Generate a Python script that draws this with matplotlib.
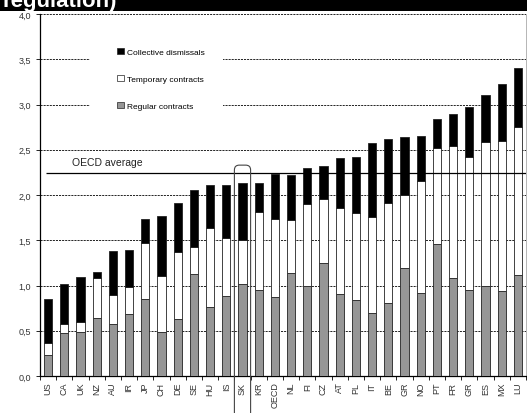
import matplotlib
matplotlib.use('Agg')
import matplotlib.pyplot as plt
from matplotlib.patches import Rectangle, FancyBboxPatch, Patch
from matplotlib.ticker import FuncFormatter, MultipleLocator
import numpy as np

plt.rcParams['font.family'] = ['Liberation Sans', 'DejaVu Sans']

# countries, sorted by overall strictness
countries = ['US', 'CA', 'UK', 'NZ', 'AU', 'IR', 'JP', 'CH', 'DE', 'SE',
             'HU', 'IS', 'SK', 'KR', 'OECD', 'NL', 'FI', 'CZ', 'AT', 'PL',
             'IT', 'BE', 'GR', 'NO', 'PT', 'FR', 'GR', 'ES', 'MX', 'LU']
regular = [0.23, 0.48, 0.49, 0.64, 0.57, 0.69, 0.85, 0.49, 0.63, 1.13,
           0.76, 0.88, 1.02, 0.95, 0.87, 1.14, 0.99, 1.25, 0.91, 0.84,
           0.70, 0.81, 1.19, 0.92, 1.46, 1.08, 0.95, 0.99, 0.94, 1.12]
temporary = [0.14, 0.10, 0.11, 0.44, 0.32, 0.29, 0.62, 0.62, 0.74, 0.30,
             0.87, 0.65, 0.48, 0.86, 0.87, 0.58, 0.91, 0.71, 0.95, 0.96,
             1.06, 1.10, 0.81, 1.24, 1.06, 1.46, 1.47, 1.60, 1.66, 1.63]
collective = [0.48, 0.44, 0.49, 0.07, 0.49, 0.41, 0.26, 0.66, 0.54, 0.63,
              0.48, 0.58, 0.63, 0.32, 0.49, 0.50, 0.40, 0.36, 0.55, 0.62,
              0.82, 0.71, 0.64, 0.49, 0.32, 0.36, 0.55, 0.52, 0.63, 0.65]
oecd_avg = 2.24
highlight = 'SK'

reg = np.array(regular)
tmp = np.array(temporary)
col = np.array(collective)
x = np.arange(len(countries))

fig = plt.figure(figsize=(5.27, 4.14), dpi=100)
ax = fig.add_axes([40 / 527, 37 / 414, 486 / 527, 362 / 414])

# black title band at the very top (cut off, as in the source)
fig.patches.append(Rectangle((0, 1 - 12 / 414), 1, 12 / 414, transform=fig.transFigure,
                             facecolor='black', edgecolor='none', zorder=0))
fig.text(0.004, 1 - 7 / 414, 'regulation)', color='white', fontsize=16,
         fontweight='bold', va='baseline', ha='left', family='Liberation Sans')

w = 0.5
ax.bar(x, reg, w, color='#969696', edgecolor='#222222', linewidth=0.6, zorder=3,
       label='Regular contracts')
ax.bar(x, tmp, w, bottom=reg, color='white', edgecolor='#222222', linewidth=0.6,
       zorder=3, label='Temporary contracts')
ax.bar(x, col, w, bottom=reg + tmp, color='black', edgecolor='#222222', linewidth=0.6,
       zorder=3, label='Collective dismissals')

ax.set_xlim(-0.5, len(countries) - 0.5)
ax.set_ylim(0, 4)
ax.yaxis.set_major_locator(MultipleLocator(0.5))
ax.yaxis.set_major_formatter(FuncFormatter(lambda v, p: f'{v:.1f}'.replace('.', ',')))
ax.grid(axis='y', linestyle=(0, (2.5, 1.2)), color='black', linewidth=0.6, zorder=1)
ax.set_axisbelow(True)

ax.set_xticks(x)
ax.set_xticklabels(countries, rotation=90, fontsize=6.5, color='#333333')
ax.set_xticks(np.arange(-0.5, len(countries), 1), minor=True)
ax.tick_params(axis='x', which='major', length=0, pad=4)
ax.tick_params(axis='x', which='minor', length=3, width=0.6, direction='out')
ax.tick_params(axis='y', labelsize=6.5, labelcolor='#333333', length=3, width=0.6)

ax.spines['top'].set_visible(False)
ax.spines['right'].set_color('#aaaaaa')
ax.spines['right'].set_linewidth(0.6)
ax.spines['left'].set_linewidth(0.9)
ax.spines['bottom'].set_linewidth(0.9)

# OECD average line
ax.hlines(oecd_avg, -0.1, len(countries) - 0.5, color='black', linewidth=0.9, zorder=4)
ax.text(1.5, oecd_avg + 0.13, 'OECD average', fontsize=7.5, va='center', ha='left',
        color='#222222')

# rounded box around the highlighted country
i = countries.index(highlight)
box = FancyBboxPatch((i - 0.5, -0.6), 1.0, 2.93,
                     boxstyle='round,pad=0,rounding_size=0.3',
                     mutation_aspect=0.18, facecolor='none', edgecolor='#444444',
                     linewidth=0.8, clip_on=False, zorder=5)
ax.add_patch(box)

# legend on white panel
ax.add_patch(Rectangle((0.103, 0.696), 0.274, 0.235, transform=ax.transAxes,
                       facecolor='white', edgecolor='none', zorder=2))
handles = [Patch(facecolor='black', edgecolor='#222222', linewidth=0.5),
           Patch(facecolor='white', edgecolor='#222222', linewidth=0.5),
           Patch(facecolor='#969696', edgecolor='#222222', linewidth=0.5)]
labels = ['Collective dismissals', 'Temporary contracts', 'Regular contracts']
leg = ax.legend(handles, labels, loc='upper left', bbox_to_anchor=(0.158, 0.905),
                frameon=False, fontsize=6, labelspacing=2.3, handlelength=0.9,
                handleheight=0.7, handletextpad=0.3, borderpad=0, borderaxespad=0)
leg.set_zorder(6)

fig.savefig('out.png', dpi=100)
